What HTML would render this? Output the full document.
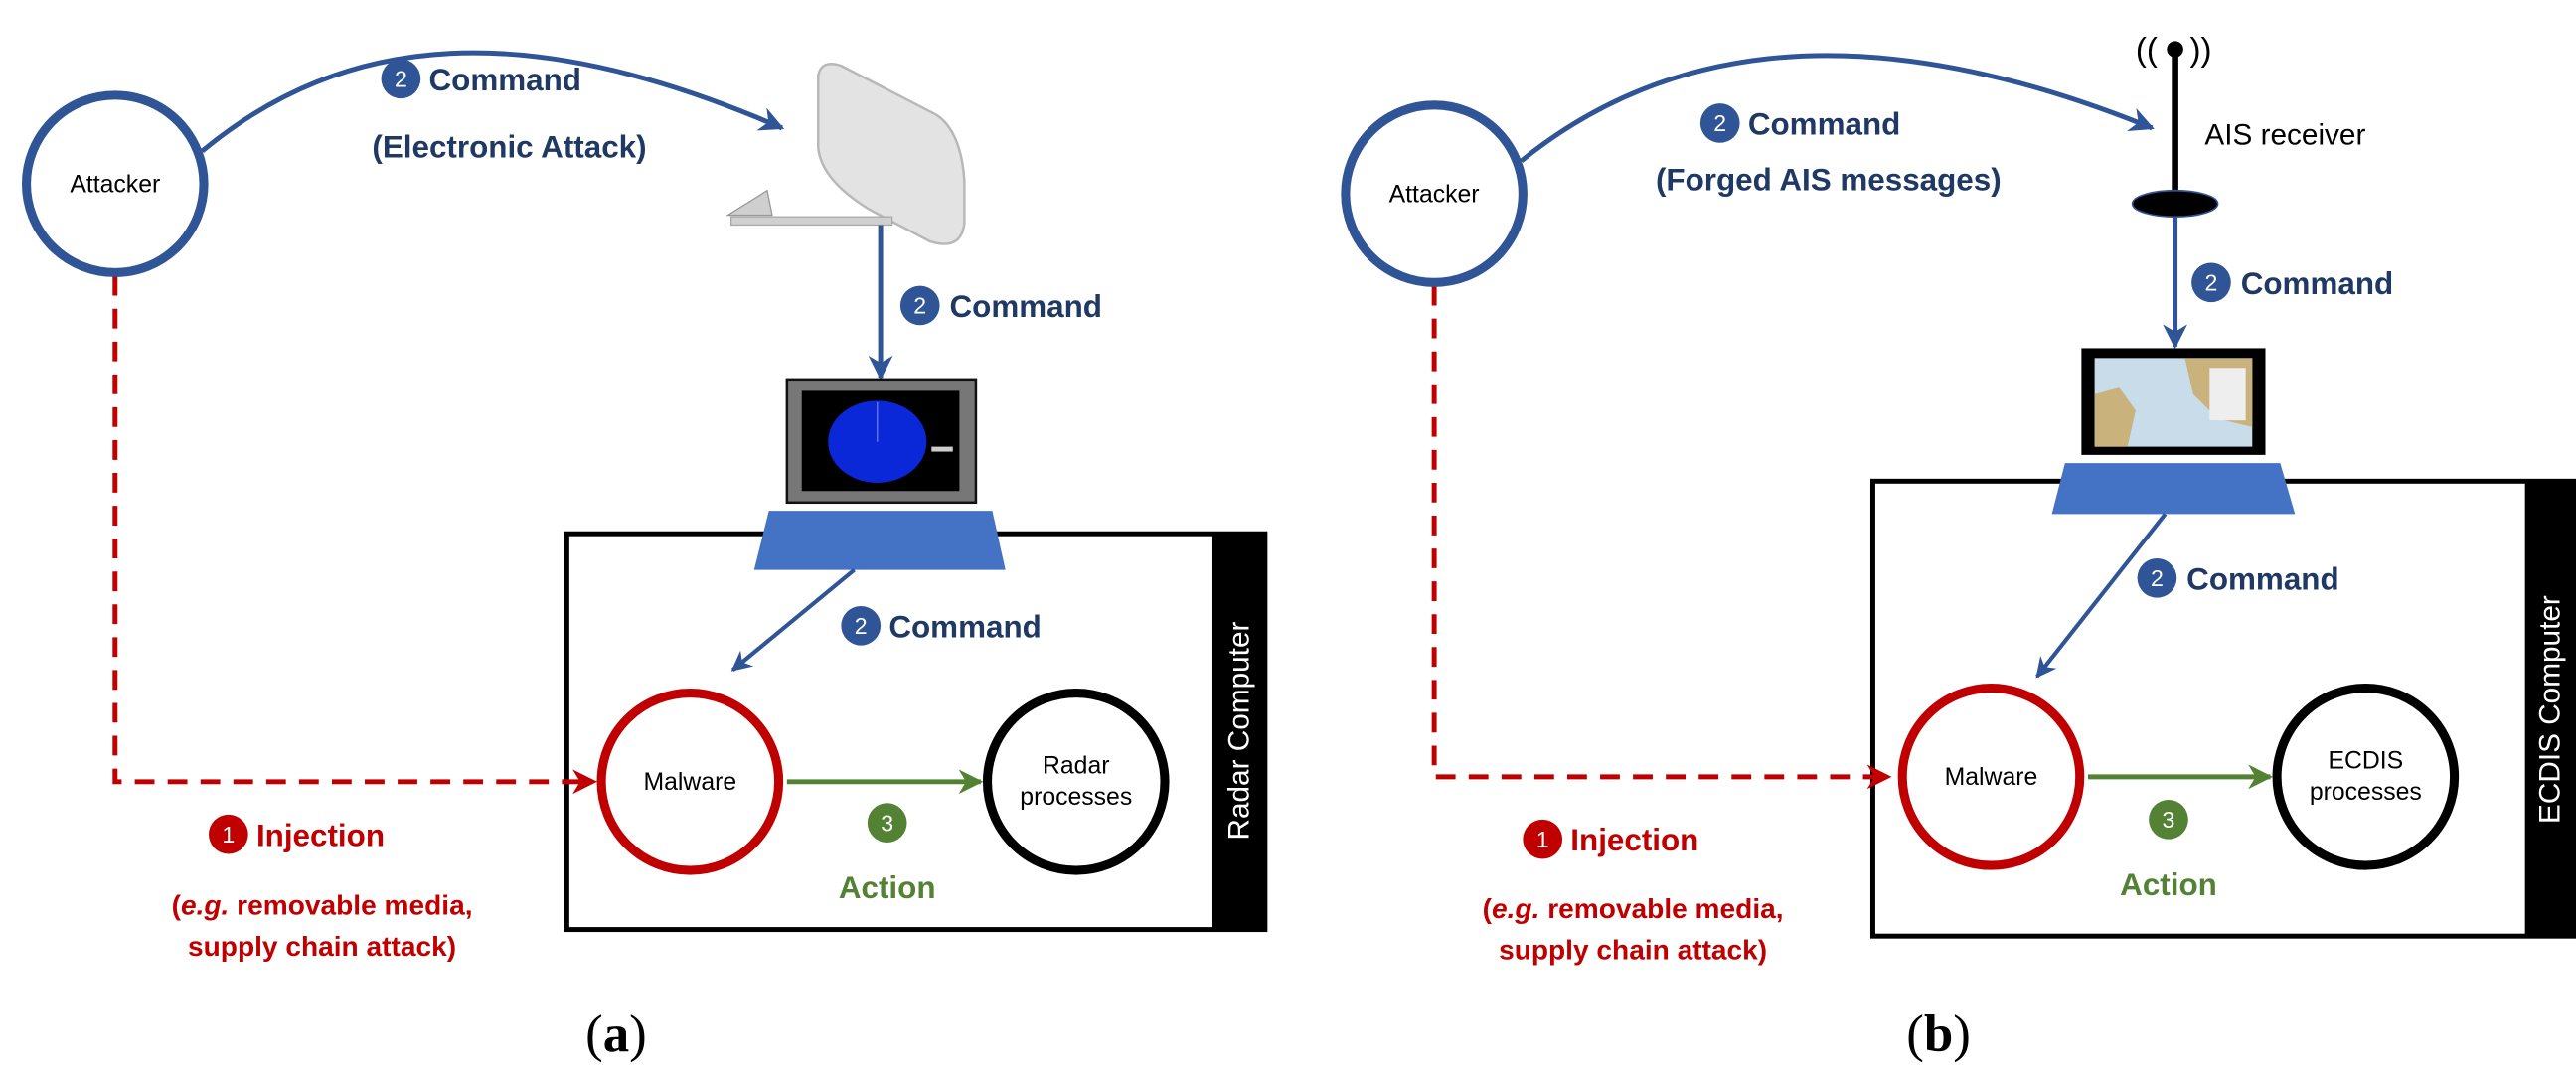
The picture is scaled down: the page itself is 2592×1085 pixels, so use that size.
<!DOCTYPE html>
<html><head><meta charset="utf-8"><style>
html,body{margin:0;padding:0;background:#fff;}
svg{display:block;}
text{font-family:"Liberation Sans",sans-serif;}
.lb{font-weight:bold;font-size:19px;fill:#1F3864;}
.rd{font-weight:bold;font-size:17px;fill:#C00000;}
.gr{font-weight:bold;font-size:19px;fill:#548235;}
.nd{font-size:15px;fill:#000;}
.bn{font-size:14px;fill:#fff;text-anchor:middle;}
</style></head><body>
<svg width="2592" height="1085" viewBox="0 0 1568 656.4" xmlns="http://www.w3.org/2000/svg">
<defs>
<marker id="ab" viewBox="0 0 10 10" refX="9" refY="5" markerWidth="5" markerHeight="5" orient="auto"><path d="M0,0 L10,5 L0,10 L3,5z" fill="#2F5597"/></marker>
<marker id="ar" viewBox="0 0 10 10" refX="9" refY="5" markerWidth="5" markerHeight="5" orient="auto"><path d="M0,0 L10,5 L0,10 L3,5z" fill="#C00000"/></marker>
<marker id="ag" viewBox="0 0 10 10" refX="9" refY="5" markerWidth="5" markerHeight="5" orient="auto"><path d="M0,0 L10,5 L0,10 L3,5z" fill="#548235"/></marker>
</defs>

<!-- ===== Panel a ===== -->
<rect x="345" y="325" width="425" height="241" fill="none" stroke="#000" stroke-width="3"/>
<rect x="738" y="325" width="32" height="241" fill="#000"/>
<text transform="translate(760,445) rotate(-90)" text-anchor="middle" style="font-size:18px;fill:#fff">Radar Computer</text>

<path d="M70,168 L70,476 L362,476" fill="none" stroke="#C00000" stroke-width="3" stroke-dasharray="12,8" marker-end="url(#ar)"/>
<path d="M123,92 C210,20 320,10 476,78" fill="none" stroke="#2F5597" stroke-width="3" marker-end="url(#ab)"/>
<circle cx="70" cy="112" r="54" fill="#fff" stroke="#2F5597" stroke-width="5.5"/>
<text x="70" y="117" class="nd" text-anchor="middle">Attacker</text>

<circle cx="244" cy="48" r="12" fill="#2F5597"/><text x="244" y="53" class="bn">2</text>
<text x="261" y="55" class="lb">Command</text>
<text x="310" y="96" class="lb" text-anchor="middle">(Electronic Attack)</text>

<!-- dish -->
<path d="M498,46 Q500,36 512,40 L570,70 Q585,80 587,110 L587,136 Q585,153 566,147 L530,128 Q500,110 498,90 Z" fill="#e3e3e3" stroke="#b8b8b8" stroke-width="1.5"/>
<rect x="445" y="132" width="98" height="5" fill="#d0d0d0" stroke="#aaa" stroke-width="0.8"/>
<path d="M443,131 L467,116 L470,131z" fill="#cfcfcf" stroke="#999" stroke-width="0.8"/>
<line x1="536" y1="137" x2="536" y2="230" stroke="#2F5597" stroke-width="3" marker-end="url(#ab)"/>
<circle cx="560" cy="186" r="12" fill="#2F5597"/><text x="560" y="191" class="bn">2</text>
<text x="578" y="193" class="lb">Command</text>

<!-- radar monitor -->
<rect x="479" y="231" width="115" height="75" fill="#777" stroke="#111" stroke-width="1.5"/>
<rect x="488" y="238" width="96" height="61" fill="#000"/>
<ellipse cx="534" cy="269" rx="30" ry="25" fill="#0a28d8"/>
<line x1="534" y1="245" x2="534" y2="269" stroke="#6a7de8" stroke-width="0.8"/>
<rect x="567" y="272" width="13" height="3" fill="#ccc"/>
<path d="M468,311 L604,311 L612,347 L459,347z" fill="#4472C4"/>

<line x1="520" y1="347" x2="446" y2="408" stroke="#2F5597" stroke-width="2.5" marker-end="url(#ab)"/>
<circle cx="524" cy="381" r="12" fill="#2F5597"/><text x="524" y="386" class="bn">2</text>
<text x="541" y="388" class="lb">Command</text>

<circle cx="420" cy="476" r="54" fill="#fff" stroke="#C00000" stroke-width="5.5"/>
<text x="420" y="481" class="nd" text-anchor="middle">Malware</text>
<circle cx="655" cy="476" r="54" fill="#fff" stroke="#000" stroke-width="5.5"/>
<text x="655" y="471" class="nd" text-anchor="middle">Radar</text>
<text x="655" y="490" class="nd" text-anchor="middle">processes</text>
<line x1="479" y1="476" x2="597" y2="476" stroke="#548235" stroke-width="3" marker-end="url(#ag)"/>
<circle cx="540" cy="501" r="12" fill="#548235"/><text x="540" y="506" class="bn">3</text>
<text x="540" y="547" class="gr" text-anchor="middle">Action</text>

<circle cx="139" cy="508" r="12" fill="#C00000"/><text x="139" y="513" class="bn">1</text>
<text x="156" y="515" class="rd" style="font-size:19px">Injection</text>
<text x="196" y="557" class="rd" text-anchor="middle">(<tspan font-style="italic">e.g.</tspan> removable media,</text>
<text x="196" y="582" class="rd" text-anchor="middle">supply chain attack)</text>
<text x="375" y="640" text-anchor="middle" style="font-family:'Liberation Serif',serif;font-size:32px">(<tspan font-weight="bold">a</tspan>)</text>

<!-- ===== Panel b ===== -->
<rect x="1140" y="293" width="428" height="277" fill="none" stroke="#000" stroke-width="3"/>
<rect x="1537" y="293" width="31" height="277" fill="#000"/>
<text transform="translate(1558,432) rotate(-90)" text-anchor="middle" style="font-size:18px;fill:#fff">ECDIS Computer</text>

<path d="M873,174 L873,473 L1150,473" fill="none" stroke="#C00000" stroke-width="3" stroke-dasharray="12,8" marker-end="url(#ar)"/>
<path d="M926,98 C1010,30 1130,5 1310,78" fill="none" stroke="#2F5597" stroke-width="3" marker-end="url(#ab)"/>
<circle cx="873" cy="118" r="54" fill="#fff" stroke="#2F5597" stroke-width="5.5"/>
<text x="873" y="123" class="nd" text-anchor="middle">Attacker</text>

<circle cx="1047" cy="75" r="12" fill="#2F5597"/><text x="1047" y="80" class="bn">2</text>
<text x="1064" y="82" class="lb">Command</text>
<text x="1113" y="116" class="lb" text-anchor="middle">(Forged AIS messages)</text>

<!-- AIS antenna -->
<circle cx="1324" cy="30" r="5" fill="#000"/>
<line x1="1324" y1="30" x2="1324" y2="120" stroke="#000" stroke-width="4"/>
<text x="1300" y="37" style="font-size:20px">((</text>
<text x="1333" y="37" style="font-size:20px">))</text>
<ellipse cx="1324" cy="124" rx="26" ry="8" fill="#000" stroke="#2F5597" stroke-width="1"/>
<text x="1342" y="88" style="font-size:18px">AIS receiver</text>
<line x1="1324" y1="132" x2="1324" y2="211" stroke="#2F5597" stroke-width="3" marker-end="url(#ab)"/>
<circle cx="1346" cy="172" r="12" fill="#2F5597"/><text x="1346" y="177" class="bn">2</text>
<text x="1364" y="179" class="lb">Command</text>

<!-- ECDIS monitor -->
<rect x="1267" y="212" width="112" height="65" fill="#000"/>
<rect x="1275" y="218" width="96" height="54" fill="#c8dcea"/>
<path d="M1275,240 L1290,236 L1300,250 L1295,272 L1275,272z" fill="#c9b27c"/>
<path d="M1330,218 L1371,218 L1371,260 L1350,255 L1335,240z" fill="#c9b27c"/>
<rect x="1345" y="224" width="22" height="32" fill="#eee"/>
<path d="M1257,282 L1388,282 L1397,313 L1249,313z" fill="#4472C4"/>

<line x1="1318" y1="313" x2="1240" y2="412" stroke="#2F5597" stroke-width="2.5" marker-end="url(#ab)"/>
<circle cx="1313" cy="352" r="12" fill="#2F5597"/><text x="1313" y="357" class="bn">2</text>
<text x="1331" y="359" class="lb">Command</text>

<circle cx="1212" cy="473" r="54" fill="#fff" stroke="#C00000" stroke-width="5.5"/>
<text x="1212" y="478" class="nd" text-anchor="middle">Malware</text>
<circle cx="1440" cy="473" r="54" fill="#fff" stroke="#000" stroke-width="5.5"/>
<text x="1440" y="468" class="nd" text-anchor="middle">ECDIS</text>
<text x="1440" y="487" class="nd" text-anchor="middle">processes</text>
<line x1="1271" y1="473" x2="1382" y2="473" stroke="#548235" stroke-width="3" marker-end="url(#ag)"/>
<circle cx="1320" cy="499" r="12" fill="#548235"/><text x="1320" y="504" class="bn">3</text>
<text x="1320" y="545" class="gr" text-anchor="middle">Action</text>

<circle cx="939" cy="511" r="12" fill="#C00000"/><text x="939" y="516" class="bn">1</text>
<text x="956" y="518" class="rd" style="font-size:19px">Injection</text>
<text x="994" y="559" class="rd" text-anchor="middle">(<tspan font-style="italic">e.g.</tspan> removable media,</text>
<text x="994" y="584" class="rd" text-anchor="middle">supply chain attack)</text>
<text x="1180" y="640" text-anchor="middle" style="font-family:'Liberation Serif',serif;font-size:32px">(<tspan font-weight="bold">b</tspan>)</text>
</svg>
</body></html>
